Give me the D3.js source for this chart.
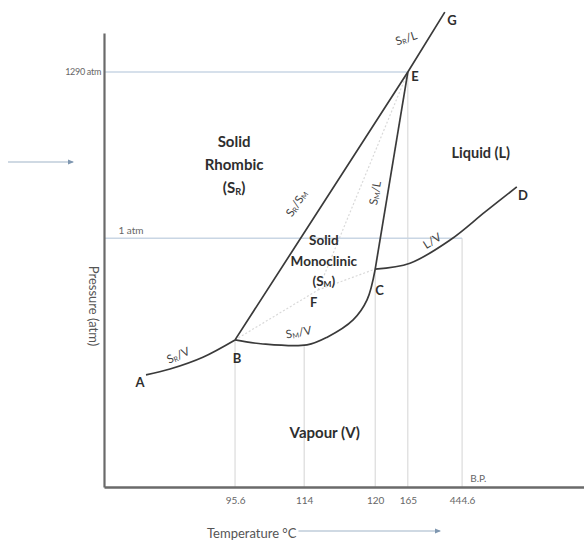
<!DOCTYPE html>
<html>
<head>
<meta charset="utf-8">
<script src="https://cdn.jsdelivr.net/npm/d3@7"></script>
<style>
  html, body { margin: 0; padding: 0; background: #fff; }
  svg { display: block; font-family: Lato, "Open Sans", sans-serif; }
</style>
</head>
<body>
<svg id="chart" width="584" height="543"></svg>
<script>
// ---- Data (schematic diagram units: x 0..100 across, y 0..100 up) ----
const tempTickPos   = [27.3, 41.7, 56.5, 63.3, 74.6];
const tempTickLabel = ["95.6", "114", "120", "165", "444.6"];
const tempGuideTop  = [32.4, 31.3, 48.0, 91.4, 54.8];

const pressureLevels = [91.4, 54.8];
const pressureLabels = ["1290 atm", "1 atm"];
const pressureGuideEnd = [63.3, 74.6];

const curveAB = [[8.75, 24.7], [13.75, 26.0], [20.6, 28.6], [27.3, 32.4]];
const curveBC = [[27.3, 32.4], [33.1, 31.5], [42.3, 31.3], [46.5, 33.0], [51.9, 36.8], [54.8, 41.2], [56.5, 48.0]];
const curveCD = [[56.5, 48.0], [63.75, 49.3], [72.1, 54.4], [79.4, 60.6], [86.0, 66.1]];
const lineBEG = [[27.3, 32.4], [63.3, 91.4], [71.0, 104.6]];
const lineCE  = [[56.5, 48.0], [63.3, 91.4]];
const metastable = [
  [[27.3, 32.4], [44.6, 43.4]],
  [[44.6, 43.4], [56.5, 48.0]],
  [[44.6, 43.4], [63.3, 91.4]]
];

const pointNames = ["A", "B", "C", "D", "E", "F", "G"];
const pointLabelAt = [[7.5, 22.0], [27.7, 27.4], [57.4, 42.2], [87.3, 63.2], [64.8, 89.5], [43.7, 39.6], [72.5, 101.8]];

const regionLines = [["Solid", "Rhombic", "(S|R)"], ["Liquid (L)"], ["Solid", "Monoclinic", "(S|M)"], ["Vapour (V)"]];
const regionAt = [[27.1, 74.8], [78.5, 72.4], [45.8, 53.2], [46.0, 10.8]];
const regionLeading = [23, 0, 20.5, 0];
const regionSize = [15, 14.5, 13.5, 15];

const boundaryLabels = ["S|R/V", "S|M/V", "S|R/S|M", "S|M/L", "S|R/L", "L/V"];
const boundaryAt = [[15.8, 28.2], [40.7, 33.2], [40.8, 62.0], [57.3, 64.6], [63.2, 98.0], [68.8, 53.5]];
const boundaryAngle = [-24, -10, -57, -80, -18, -32];

// ---- Layout ----
const svg = d3.select("#chart");
const x = d3.scaleLinear().domain([0, 100]).range([104, 584]);
const y = d3.scaleLinear().domain([0, 100]).range([487, 33]);

const guideBlue = "#c9d6e4";
const guideGray = "#d4d4d4";
const ink = "#3a3a3a";

// vertical guides
svg.append("g").selectAll("line").data(tempTickPos).join("line")
  .attr("x1", d => x(d)).attr("x2", d => x(d))
  .attr("y1", y(0)).attr("y2", (d, i) => y(tempGuideTop[i]))
  .attr("stroke", guideGray).attr("stroke-width", 1);

// horizontal pressure guides
svg.append("g").selectAll("line").data(pressureLevels).join("line")
  .attr("x1", x(0)).attr("x2", (d, i) => x(pressureGuideEnd[i]))
  .attr("y1", d => y(d)).attr("y2", d => y(d))
  .attr("stroke", guideBlue).attr("stroke-width", 1.6);

// metastable dotted lines
const straight = d3.line().x(d => x(d[0])).y(d => y(d[1]));
svg.append("g").selectAll("path").data(metastable).join("path")
  .attr("d", straight).attr("fill", "none")
  .attr("stroke", "#d9d9d9").attr("stroke-width", 1.2).attr("stroke-dasharray", "2,2");

// curves
const smooth = d3.line().x(d => x(d[0])).y(d => y(d[1])).curve(d3.curveCatmullRom.alpha(0.5));
[curveAB, curveBC, curveCD].forEach(c => {
  svg.append("path").datum(c).attr("d", smooth).attr("fill", "none")
    .attr("stroke", ink).attr("stroke-width", 1.7);
});
[lineBEG, lineCE].forEach(c => {
  svg.append("path").datum(c).attr("d", straight).attr("fill", "none")
    .attr("stroke", ink).attr("stroke-width", 1.7).attr("stroke-linejoin", "round");
});

// axes
const xAxis = d3.axisBottom(x).tickValues(tempTickPos)
  .tickFormat((d, i) => tempTickLabel[i]).tickSize(0).tickPadding(10);
const gx = svg.append("g").attr("transform", `translate(0,${y(0)})`).call(xAxis);
gx.select(".domain").attr("stroke", "#6a6a6a").attr("stroke-width", 2.6);
gx.selectAll("text").attr("font-size", 10).attr("fill", "#666").attr("font-family", "Lato, sans-serif");

const yAxis = d3.axisLeft(y).tickValues([pressureLevels[0]])
  .tickFormat(() => pressureLabels[0]).tickSize(0).tickPadding(3);
const gy = svg.append("g").attr("transform", `translate(${x(0)},0)`).call(yAxis);
gy.select(".domain").attr("stroke", "#6a6a6a").attr("stroke-width", 2.2);
gy.selectAll("text").attr("font-size", 9).attr("fill", "#666").attr("font-family", "Lato, sans-serif")
  .attr("letter-spacing", "-0.3");

svg.append("text").attr("x", x(3)).attr("y", y(pressureLevels[1]) - 4)
  .attr("font-size", 10).attr("fill", "#666").text(pressureLabels[1]);

svg.append("text").attr("x", x(76.3)).attr("y", y(0) - 5)
  .attr("font-size", 10).attr("fill", "#666").text("B.P.");

// axis titles
const tTitle = svg.append("text").attr("x", 207).attr("y", 538)
  .attr("font-size", 13).attr("fill", "#555").text("Temperature °C");
const tEnd = tTitle.node().getComputedTextLength() + 207;

const defs = svg.append("defs");
defs.append("marker").attr("id", "ah").attr("viewBox", "0 0 6 6").attr("refX", 5).attr("refY", 3)
  .attr("markerWidth", 5).attr("markerHeight", 5).attr("orient", "auto")
  .append("path").attr("d", "M0,0.5 L6,3 L0,5.5 Z").attr("fill", "#7f97b0");

svg.append("line").attr("x1", tEnd + 2).attr("x2", 440).attr("y1", 531).attr("y2", 531)
  .attr("stroke", "#9fb3c7").attr("stroke-width", 1.2).attr("marker-end", "url(#ah)");

svg.append("line").attr("x1", 8).attr("x2", 73).attr("y1", 162).attr("y2", 162)
  .attr("stroke", "#9fb3c7").attr("stroke-width", 1.2).attr("marker-end", "url(#ah)");

svg.append("text").attr("transform", `translate(89,306) rotate(90)`)
  .attr("text-anchor", "middle").attr("font-size", 13).attr("fill", "#555").text("Pressure (atm)");

// helper for subscript labels "S|R" -> S with subscript R
function richText(sel, str, size) {
  const parts = str.split(/(\|[A-Z])/).filter(s => s.length);
  parts.forEach(p => {
    if (p[0] === "|") {
      sel.append("tspan").attr("font-size", size * 0.62).attr("baseline-shift", "-18%").text(p.slice(1));
    } else {
      sel.append("tspan").text(p);
    }
  });
}

// region labels
regionLines.forEach((lines, i) => {
  const t = svg.append("text").attr("text-anchor", "middle").attr("font-weight", 700)
    .attr("font-size", regionSize[i]).attr("fill", "#2e2e2e");
  lines.forEach((ln, j) => {
    const g = t.append("tspan").attr("x", x(regionAt[i][0])).attr("y", y(regionAt[i][1]) + j * regionLeading[i]);
    richText(g, ln, regionSize[i]);
  });
});

// point labels
svg.append("g").selectAll("text").data(pointNames).join("text")
  .attr("x", (d, i) => x(pointLabelAt[i][0])).attr("y", (d, i) => y(pointLabelAt[i][1]))
  .attr("text-anchor", "middle").attr("font-weight", 700).attr("font-size", 13).attr("fill", "#2e2e2e")
  .text(d => d);

// boundary labels
boundaryLabels.forEach((lab, i) => {
  const t = svg.append("text").attr("text-anchor", "middle").attr("font-size", 11.5).attr("fill", "#444")
    .attr("transform", `translate(${x(boundaryAt[i][0])},${y(boundaryAt[i][1])}) rotate(${boundaryAngle[i]})`);
  richText(t, lab, 11.5);
});
</script>
</body>
</html>
